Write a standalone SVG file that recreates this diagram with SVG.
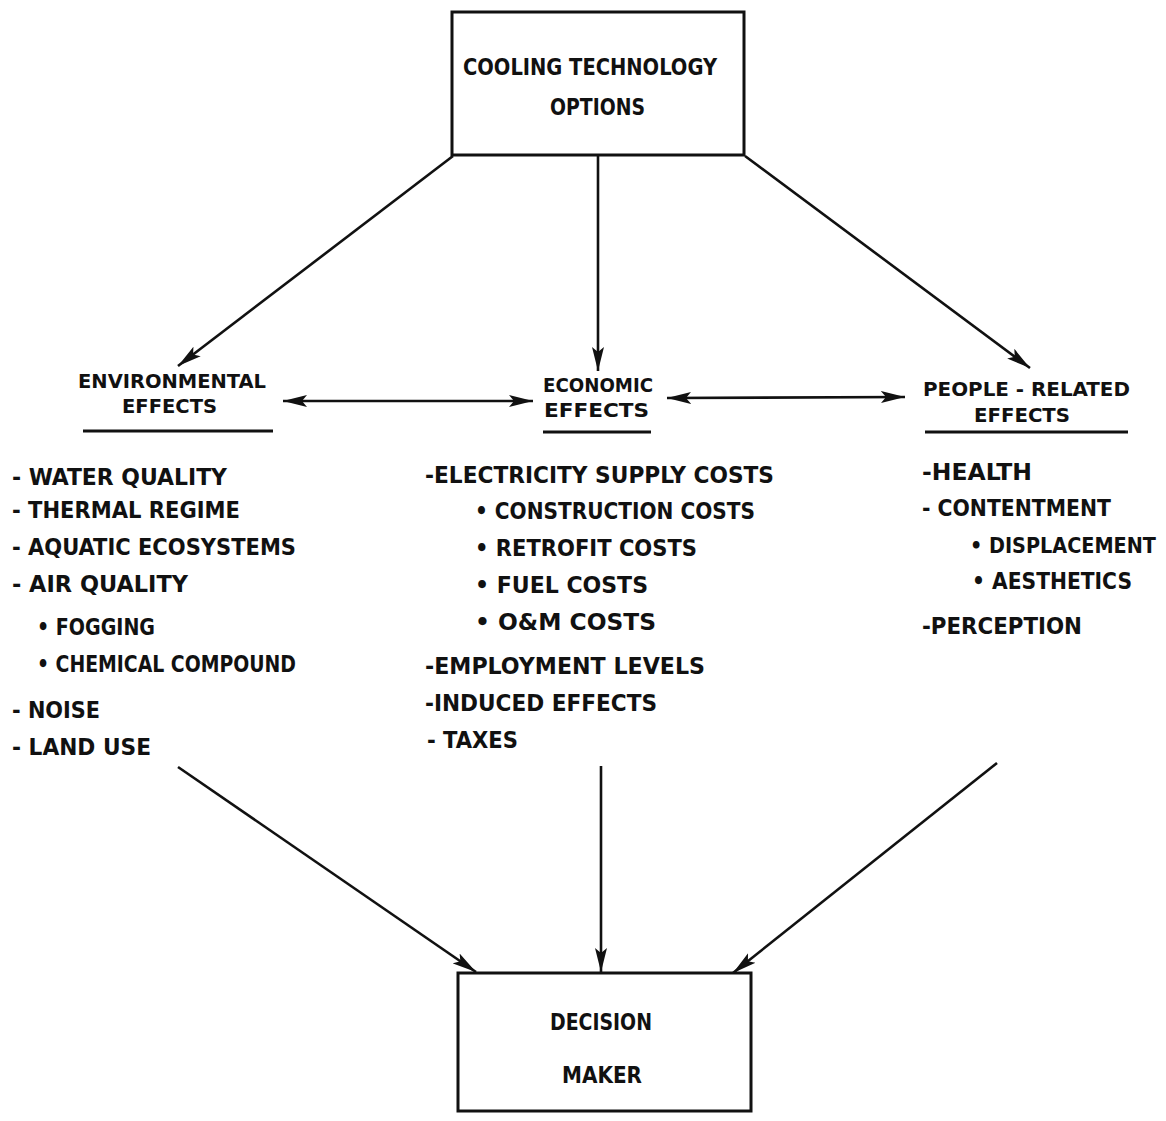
<svg xmlns="http://www.w3.org/2000/svg" width="1166" height="1121" viewBox="0 0 1166 1121">
<style>
.t{font-family:'DejaVu Sans Condensed','Liberation Sans Narrow','Liberation Sans',sans-serif;font-weight:bold;font-size:23px;fill:#111}
.h{font-size:20px}
.box{fill:none;stroke:#111;stroke-width:3}
.ln{stroke:#111;stroke-width:3;fill:none}
.c{stroke:#111;stroke-width:2.6;fill:none}
</style>
<defs>
<marker id="ah" markerUnits="userSpaceOnUse" markerWidth="26" markerHeight="14" refX="24" refY="7" orient="auto-start-reverse">
<path d="M0,1 L24,7 L0,13 L5,7 Z" fill="#111"/>
</marker>
</defs>
<rect width="1166" height="1121" fill="#fff"/>
<g id="cooling">
<rect class="box" x="452" y="12" width="292" height="143"/>
<text class="t" x="463" y="75" textLength="254" lengthAdjust="spacingAndGlyphs">COOLING TECHNOLOGY</text>
<text class="t" x="550" y="115" textLength="95" lengthAdjust="spacingAndGlyphs">OPTIONS</text>
</g>
<g id="environmental">
<text class="t h" x="78" y="388" textLength="188" lengthAdjust="spacingAndGlyphs">ENVIRONMENTAL</text>
<text class="t h" x="122" y="413" textLength="95" lengthAdjust="spacingAndGlyphs">EFFECTS</text>
<line class="ln" x1="83" y1="431" x2="273" y2="431"/>
<text class="t" x="12" y="485" textLength="215" lengthAdjust="spacingAndGlyphs">- WATER QUALITY</text>
<text class="t" x="12" y="518" textLength="228" lengthAdjust="spacingAndGlyphs">- THERMAL REGIME</text>
<text class="t" x="12" y="555" textLength="284" lengthAdjust="spacingAndGlyphs">- AQUATIC ECOSYSTEMS</text>
<text class="t" x="12" y="592" textLength="176" lengthAdjust="spacingAndGlyphs">- AIR QUALITY</text>
<text class="t" x="37" y="635" textLength="118" lengthAdjust="spacingAndGlyphs">• FOGGING</text>
<text class="t" x="37" y="672" textLength="259" lengthAdjust="spacingAndGlyphs">• CHEMICAL COMPOUND</text>
<text class="t" x="12" y="718" textLength="88" lengthAdjust="spacingAndGlyphs">- NOISE</text>
<text class="t" x="12" y="755" textLength="139" lengthAdjust="spacingAndGlyphs">- LAND USE</text>
</g>
<g id="economic">
<text class="t h" x="543" y="392" textLength="110" lengthAdjust="spacingAndGlyphs">ECONOMIC</text>
<text class="t h" x="544" y="417" textLength="105" lengthAdjust="spacingAndGlyphs">EFFECTS</text>
<line class="ln" x1="543" y1="432" x2="651" y2="432"/>
<text class="t" x="425" y="483" textLength="349" lengthAdjust="spacingAndGlyphs">-ELECTRICITY SUPPLY COSTS</text>
<text class="t" x="475" y="519" textLength="280" lengthAdjust="spacingAndGlyphs">• CONSTRUCTION COSTS</text>
<text class="t" x="475" y="556" textLength="222" lengthAdjust="spacingAndGlyphs">• RETROFIT COSTS</text>
<text class="t" x="475" y="593" textLength="173" lengthAdjust="spacingAndGlyphs">• FUEL COSTS</text>
<text class="t" x="475" y="630" textLength="181" lengthAdjust="spacingAndGlyphs">• O&amp;M COSTS</text>
<text class="t" x="425" y="674" textLength="280" lengthAdjust="spacingAndGlyphs">-EMPLOYMENT LEVELS</text>
<text class="t" x="425" y="711" textLength="232" lengthAdjust="spacingAndGlyphs">-INDUCED EFFECTS</text>
<text class="t" x="427" y="748" textLength="91" lengthAdjust="spacingAndGlyphs">- TAXES</text>
</g>
<g id="people">
<text class="t h" x="923" y="396" textLength="207" lengthAdjust="spacingAndGlyphs">PEOPLE - RELATED</text>
<text class="t h" x="974" y="422" textLength="96" lengthAdjust="spacingAndGlyphs">EFFECTS</text>
<line class="ln" x1="925" y1="432" x2="1128" y2="432"/>
<text class="t" x="922" y="480" textLength="110" lengthAdjust="spacingAndGlyphs">-HEALTH</text>
<text class="t" x="922" y="516" textLength="189" lengthAdjust="spacingAndGlyphs">- CONTENTMENT</text>
<text class="t" x="970" y="553" style="font-size:21px" textLength="186" lengthAdjust="spacingAndGlyphs">• DISPLACEMENT</text>
<text class="t" x="972" y="589" textLength="160" lengthAdjust="spacingAndGlyphs">• AESTHETICS</text>
<text class="t" x="922" y="634" textLength="160" lengthAdjust="spacingAndGlyphs">-PERCEPTION</text>
</g>
<g id="decision">
<rect class="box" x="458" y="973" width="293" height="138"/>
<text class="t" x="550" y="1030" textLength="102" lengthAdjust="spacingAndGlyphs">DECISION</text>
<text class="t" x="562" y="1083" textLength="80" lengthAdjust="spacingAndGlyphs">MAKER</text>
</g>
<g id="connectors">
<line class="c" x1="453" y1="156" x2="178" y2="366" marker-end="url(#ah)"/>
<line class="c" x1="598" y1="156" x2="598" y2="371" marker-end="url(#ah)"/>
<line class="c" x1="745" y1="156" x2="1030" y2="368" marker-end="url(#ah)"/>
<line class="c" x1="283" y1="401" x2="533" y2="401" marker-start="url(#ah)" marker-end="url(#ah)"/>
<line class="c" x1="667" y1="398" x2="905" y2="397" marker-start="url(#ah)" marker-end="url(#ah)"/>
<line class="c" x1="178" y1="767" x2="476" y2="972" marker-end="url(#ah)"/>
<line class="c" x1="601" y1="766" x2="601" y2="972" marker-end="url(#ah)"/>
<line class="c" x1="997" y1="763" x2="733" y2="973" marker-end="url(#ah)"/>
</g>
</svg>
